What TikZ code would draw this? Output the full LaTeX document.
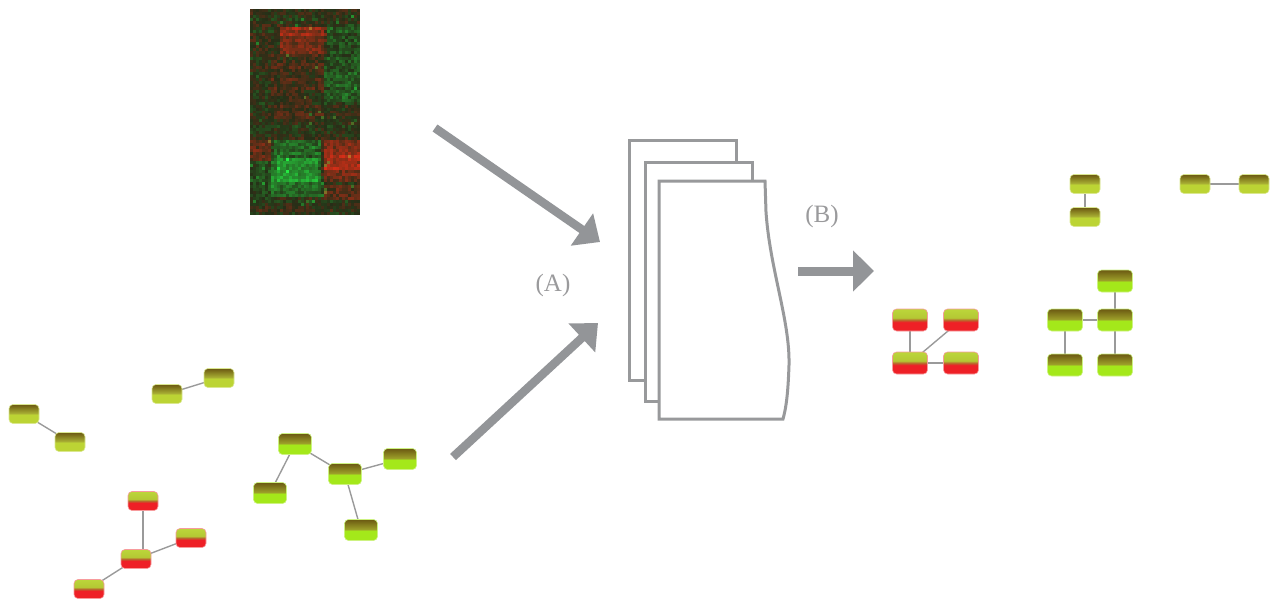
\documentclass[tikz,border=0pt]{standalone}
\usepackage{fontspec}
\setmainfont{Liberation Serif}
\usetikzlibrary{arrows.meta}

% colours
\definecolor{arrowgray}{HTML}{939598}
\definecolor{pagegray}{HTML}{98999B}
\definecolor{edgegray}{HTML}{9A9A9A}
\definecolor{labelgray}{HTML}{9A9A9C}
\definecolor{oliveT}{HTML}{6C5912}
\definecolor{oliveM}{HTML}{AAB234}
\definecolor{oliveB}{HTML}{BCD434}
\definecolor{limeT}{HTML}{6C5912}
\definecolor{limeM}{HTML}{9EA22A}
\definecolor{limeB}{HTML}{A4E81A}
\definecolor{redR}{HTML}{EE2026}
\definecolor{redO}{HTML}{B8682C}
\definecolor{redG}{HTML}{B4C834}
\definecolor{redT}{HTML}{BCD63A}

% node fills: bottom of the node sits at 25bp, top at 75bp
\pgfdeclareverticalshading{oliveshade}{100bp}{color(0bp)=(oliveB); color(25bp)=(oliveB); color(49bp)=(oliveB); color(51bp)=(oliveM); color(75bp)=(oliveT); color(100bp)=(oliveT)}
\pgfdeclareverticalshading{limeshade}{100bp}{color(0bp)=(limeB); color(25bp)=(limeB); color(49bp)=(limeB); color(51bp)=(limeM); color(75bp)=(limeT); color(100bp)=(limeT)}
\pgfdeclareverticalshading{redshade}{100bp}{color(0bp)=(redR); color(25bp)=(redR); color(45bp)=(redR); color(50bp)=(redO); color(55bp)=(redG); color(75bp)=(redT); color(100bp)=(redT)}

\pgfdeclarelayer{edges}
\pgfsetlayers{edges,main}

\tikzset{
  gene/.style={rounded corners=4pt, minimum width=33pt, minimum height=21pt, inner sep=0pt, line width=0.6pt},
  small/.style={minimum width=30pt, minimum height=19pt},
  olive/.style={gene, shading=oliveshade, draw=oliveB!55!white},
  lime/.style={gene, shading=limeshade, draw=limeB!55!white},
  redn/.style={gene, shading=redshade, draw=redR!45!white},
  link/.style={draw=edgegray, line width=1.4pt},
  bigarrow/.style={draw=arrowgray, line width=8.5pt, -{Triangle[length=22pt,width=38pt]}},
  page/.style={draw=pagegray, line width=3pt, fill=white, line join=miter},
  lbl/.style={text=labelgray, font=\fontsize{25}{25}\selectfont, inner sep=0pt},
}

\begin{document}
\begin{tikzpicture}[x=1pt,y=-1pt]
\useasboundingbox (0,0) rectangle (1273,602);

% ---------- expression heat map ----------
\begin{scope}
\clip (250,9) rectangle (360,215);
\pgfmathsetseed{4242}
\foreach \j in {0,...,68}{
  \pgfmathsetmacro\rowb{0.14*rand}
  \pgfmathsetmacro\hy{9+\j*206/69}
  \foreach \i in {0,...,36}{
    \pgfmathsetmacro\hx{250+\i*110/37}
    \pgfmathsetmacro\bias{0.42*(\hx>=278)*(\hx<325)*(\hy>=24)*(\hy<52) + 0.25*(\hx>=278)*(\hx<325)*(\hy>=24)*(\hy<34) - 0.3*(\hx>=322)*(\hy>=22)*(\hy<100) - 0.45*(\hx>=270)*(\hx<322)*(\hy>=140)*(\hy<195) - 0.35*(\hx>=274)*(\hx<318)*(\hy>=158)*(\hy<182) + 0.5*(\hx>=320)*(\hy>=140)*(\hy<180) + 0.25*(\hx>=322)*(\hy>=152)*(\hy<168) + 0.35*(\hx<272)*(\hy>=140)*(\hy<160) - 0.2*(\hx<272)*(\hy>=160)*(\hy<200) + 0.3*(\hx>=320)*(\hy>=185)*(\hy<200) + 0.15*(\hx>=270)*(\hx<322)*(\hy>=52)*(\hy<120)}
    \pgfmathsetmacro\val{\bias+0.26*rand+\rowb}
    \pgfmathsetmacro\spot{(rnd>0.985)*0.5}
    \pgfmathsetmacro\amtR{max(\val,0)}
    \pgfmathsetmacro\amtG{max(0-(\val),0)+\spot}
    \pgfmathsetmacro\colR{min(1,0.15+0.62*\amtR)}
    \pgfmathsetmacro\colG{min(1,0.18+0.5*\amtG)}
    \pgfmathsetmacro\colB{min(1,0.09+0.12*\amtG)}
    \definecolor{heatcell}{rgb}{\colR,\colG,\colB}
    \fill[heatcell] (\hx,\hy) rectangle ++(3.2,3.2);
  }
}
\end{scope}

% ---------- arrows and labels ----------
\coordinate (a1s) at (435,128);
\coordinate (a1e) at (600,242);
\coordinate (a2s) at (453,457);
\coordinate (a2e) at (598,323);
\coordinate (a3s) at (798,271);
\coordinate (a3e) at (874,271);
\draw[bigarrow] (a1s) -- (a1e);
\draw[bigarrow] (a2s) -- (a2e);
\draw[bigarrow, line width=9pt, -{Triangle[length=21pt,width=40pt]}] (a3s) -- (a3e);
\node[lbl] (labA) at (553,285) {(A)};
\node[lbl] (labB) at (822,216) {(B)};

% ---------- stack of pages ----------
\draw[page] (629,140) rectangle (736,380);
\draw[page] (645,162) rectangle (752,401);
\draw[page] (659,181) -- (765,181) -- (766,212)
  .. controls (770,270) and (790,320) .. (789,365)
  .. controls (788,395) and (786,408) .. (783,419) -- (659,419) -- cycle;

% ---------- input networks ----------
\node[olive,small] (A) at (24,414) {};
\node[olive,small] (B) at (70,442) {};
\node[olive,small] (C) at (167,394) {};
\node[olive,small] (D) at (219,378) {};
\node[redn,small] (E) at (143,501) {};
\node[redn,small] (F) at (191,538) {};
\node[redn,small] (G) at (136,559) {};
\node[redn,small] (H) at (89,589) {};
\node[lime] (I) at (295,444) {};
\node[lime] (J) at (270,493) {};
\node[lime] (K) at (345,474) {};
\node[lime] (L) at (400,459) {};
\node[lime] (M) at (361,530) {};

% ---------- resulting modules ----------
\node[olive,small] (P1) at (1085,184) {};
\node[olive,small] (P2) at (1085,217) {};
\node[olive,small] (P3) at (1195,184) {};
\node[olive,small] (P4) at (1254,184) {};
\node[redn,minimum width=35pt,minimum height=22pt] (R1) at (910,320) {};
\node[redn,minimum width=35pt,minimum height=22pt] (R2) at (961,320) {};
\node[redn,minimum width=35pt,minimum height=22pt] (R3) at (910,363) {};
\node[redn,minimum width=35pt,minimum height=22pt] (R4) at (961,363) {};
\node[lime,minimum width=35pt,minimum height=22pt] (S1) at (1115,281) {};
\node[lime,minimum width=35pt,minimum height=22pt] (S2) at (1065,320) {};
\node[lime,minimum width=35pt,minimum height=22pt] (S3) at (1115,320) {};
\node[lime,minimum width=35pt,minimum height=22pt] (S4) at (1065,365) {};
\node[lime,minimum width=35pt,minimum height=22pt] (S5) at (1115,365) {};

% ---------- interactions ----------
\begin{pgfonlayer}{edges}
\draw[link] (A.center) -- (B.center);
\draw[link] (C.center) -- (D.center);
\draw[link] (E.center) -- (E.center |- G.north);
\draw[link] (G.center) -- (F.center);
\draw[link] (G.center) -- (H.center);
\draw[link] (I.center) -- (J.center);
\draw[link] (I.center) -- (K.center);
\draw[link] (K.center) -- (L.center);
\draw[link] (K.center) -- (M.center);
\draw[link] (P1.center) -- (P2.center);
\draw[link] (P3.center) -- (P4.center);
\draw[link] (R1.center) -- (R3.center);
\draw[link] (R2.center) -- (R3.center);
\draw[link] (R3.center) -- (R4.center);
\draw[link] (S1.center) -- (S3.center);
\draw[link] (S2.center) -- (S3.center);
\draw[link] (S2.center) -- (S4.center);
\draw[link] (S3.center) -- (S5.center);
\end{pgfonlayer}
\end{tikzpicture}
\end{document}
